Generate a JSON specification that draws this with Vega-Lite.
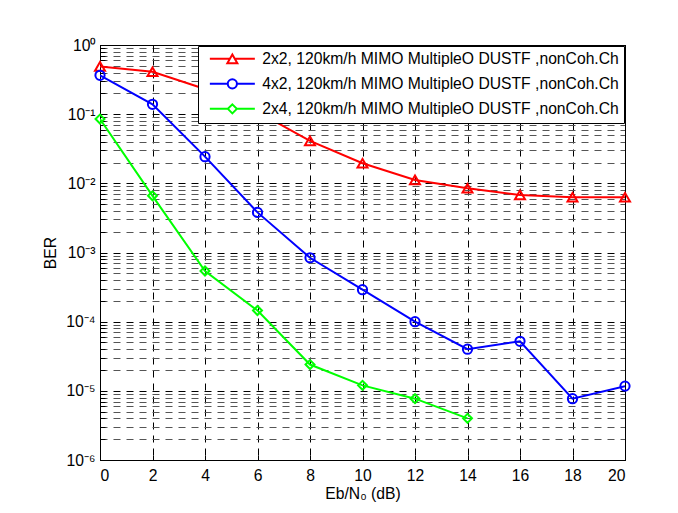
{
  "$schema": "https://vega.github.io/schema/vega-lite/v6.json",
  "width": 525,
  "height": 415,
  "autosize": {"type": "none"},
  "padding": {"left": 100, "top": 45, "right": 53, "bottom": 53},
  "background": "white",
  "config": {
    "font": "Liberation Sans",
    "view": {"stroke": "black", "strokeWidth": 1},
    "axis": {
      "labelFont": "Liberation Sans",
      "labelFontSize": 15.7,
      "labelColor": "black",
      "titleFont": "Liberation Sans",
      "titleFontSize": 15.7,
      "titleFontWeight": "normal",
      "titleColor": "black",
      "domainColor": "black",
      "domainWidth": 1,
      "tickColor": "black",
      "tickWidth": 1,
      "gridColor": "black",
      "gridWidth": 1,
      "gridDash": [7, 6],
      "gridOpacity": 1
    }
  },
  "data": {
    "values": [
      {"series": "2x2, 120km/h MIMO MultipleO DUSTF ,nonCoh.Ch", "snr": 0, "ber": 0.49},
      {"series": "2x2, 120km/h MIMO MultipleO DUSTF ,nonCoh.Ch", "snr": 2, "ber": 0.41},
      {"series": "2x2, 120km/h MIMO MultipleO DUSTF ,nonCoh.Ch", "snr": 4, "ber": 0.231},
      {"series": "2x2, 120km/h MIMO MultipleO DUSTF ,nonCoh.Ch", "snr": 6, "ber": 0.108},
      {"series": "2x2, 120km/h MIMO MultipleO DUSTF ,nonCoh.Ch", "snr": 8, "ber": 0.041},
      {"series": "2x2, 120km/h MIMO MultipleO DUSTF ,nonCoh.Ch", "snr": 10, "ber": 0.0195},
      {"series": "2x2, 120km/h MIMO MultipleO DUSTF ,nonCoh.Ch", "snr": 12, "ber": 0.0112},
      {"series": "2x2, 120km/h MIMO MultipleO DUSTF ,nonCoh.Ch", "snr": 14, "ber": 0.0085},
      {"series": "2x2, 120km/h MIMO MultipleO DUSTF ,nonCoh.Ch", "snr": 16, "ber": 0.0068},
      {"series": "2x2, 120km/h MIMO MultipleO DUSTF ,nonCoh.Ch", "snr": 18, "ber": 0.0063},
      {"series": "2x2, 120km/h MIMO MultipleO DUSTF ,nonCoh.Ch", "snr": 20, "ber": 0.0063},
      {"series": "4x2, 120km/h MIMO MultipleO DUSTF ,nonCoh.Ch", "snr": 0, "ber": 0.365},
      {"series": "4x2, 120km/h MIMO MultipleO DUSTF ,nonCoh.Ch", "snr": 2, "ber": 0.139},
      {"series": "4x2, 120km/h MIMO MultipleO DUSTF ,nonCoh.Ch", "snr": 4, "ber": 0.0243},
      {"series": "4x2, 120km/h MIMO MultipleO DUSTF ,nonCoh.Ch", "snr": 6, "ber": 0.0038},
      {"series": "4x2, 120km/h MIMO MultipleO DUSTF ,nonCoh.Ch", "snr": 8, "ber": 0.00084},
      {"series": "4x2, 120km/h MIMO MultipleO DUSTF ,nonCoh.Ch", "snr": 10, "ber": 0.00029},
      {"series": "4x2, 120km/h MIMO MultipleO DUSTF ,nonCoh.Ch", "snr": 12, "ber": 0.0001},
      {"series": "4x2, 120km/h MIMO MultipleO DUSTF ,nonCoh.Ch", "snr": 14, "ber": 0.00004},
      {"series": "4x2, 120km/h MIMO MultipleO DUSTF ,nonCoh.Ch", "snr": 16, "ber": 0.000052},
      {"series": "4x2, 120km/h MIMO MultipleO DUSTF ,nonCoh.Ch", "snr": 18, "ber": 0.0000077},
      {"series": "4x2, 120km/h MIMO MultipleO DUSTF ,nonCoh.Ch", "snr": 20, "ber": 0.0000117},
      {"series": "2x4, 120km/h MIMO MultipleO DUSTF ,nonCoh.Ch", "snr": 0, "ber": 0.085},
      {"series": "2x4, 120km/h MIMO MultipleO DUSTF ,nonCoh.Ch", "snr": 2, "ber": 0.0066},
      {"series": "2x4, 120km/h MIMO MultipleO DUSTF ,nonCoh.Ch", "snr": 4, "ber": 0.00054},
      {"series": "2x4, 120km/h MIMO MultipleO DUSTF ,nonCoh.Ch", "snr": 6, "ber": 0.000145},
      {"series": "2x4, 120km/h MIMO MultipleO DUSTF ,nonCoh.Ch", "snr": 8, "ber": 0.000024},
      {"series": "2x4, 120km/h MIMO MultipleO DUSTF ,nonCoh.Ch", "snr": 10, "ber": 0.000012},
      {"series": "2x4, 120km/h MIMO MultipleO DUSTF ,nonCoh.Ch", "snr": 12, "ber": 0.0000077},
      {"series": "2x4, 120km/h MIMO MultipleO DUSTF ,nonCoh.Ch", "snr": 14, "ber": 0.000004}
    ]
  },
  "layer": [
    {
      "mark": {"type": "line", "strokeWidth": 2, "clip": true},
      "encoding": {
        "x": {
          "field": "snr", "type": "quantitative",
          "scale": {"domain": [0, 20], "nice": false, "zero": false},
          "axis": {
            "orient": "bottom",
            "title": "Eb/N₀ (dB)",
            "values": [0, 2, 4, 6, 8, 10, 12, 14, 16, 18, 20],
            "tickSize": -5,
            "labelPadding": 13,
            "titlePadding": 4,
            "grid": true
          }
        },
        "y": {
          "field": "ber", "type": "quantitative",
          "scale": {"type": "log", "domain": [0.000001, 1], "nice": false},
          "axis": {
            "orient": "left",
            "title": "BER",
            "titlePadding": 7,
            "tickSize": -5,
            "labelPadding": 10,
            "grid": true,
            "values": [1e-6, 2e-6, 3e-6, 4e-6, 5e-6, 6e-6, 7e-6, 8e-6, 9e-6,
                       1e-5, 2e-5, 3e-5, 4e-5, 5e-5, 6e-5, 7e-5, 8e-5, 9e-5,
                       1e-4, 2e-4, 3e-4, 4e-4, 5e-4, 6e-4, 7e-4, 8e-4, 9e-4,
                       1e-3, 2e-3, 3e-3, 4e-3, 5e-3, 6e-3, 7e-3, 8e-3, 9e-3,
                       1e-2, 2e-2, 3e-2, 4e-2, 5e-2, 6e-2, 7e-2, 8e-2, 9e-2,
                       1e-1, 2e-1, 3e-1, 4e-1, 5e-1, 6e-1, 7e-1, 8e-1, 9e-1, 1],
            "labelExpr": "abs(log(datum.value)/LN10 - round(log(datum.value)/LN10)) < 0.001 ? '10' + ['⁰','⁻¹','⁻²','⁻³','⁻⁴','⁻⁵','⁻⁶'][-round(log(datum.value)/LN10)] : ''",
            "gridColor": {
              "condition": {"test": "abs(log(datum.value)/LN10 - round(log(datum.value)/LN10)) < 0.001", "value": "black"},
              "value": "#555555"
            }
          }
        },
        "color": {
          "field": "series", "type": "nominal",
          "scale": {
            "domain": ["2x2, 120km/h MIMO MultipleO DUSTF ,nonCoh.Ch", "4x2, 120km/h MIMO MultipleO DUSTF ,nonCoh.Ch", "2x4, 120km/h MIMO MultipleO DUSTF ,nonCoh.Ch"],
            "range": ["#ff0000", "#0000ff", "#00ff00"]
          }
        }
      }
    },
    {
      "transform": [{"filter": "datum.series === '2x2, 120km/h MIMO MultipleO DUSTF ,nonCoh.Ch'"}],
      "mark": {"type": "point", "shape": "triangle-up", "size": 100, "filled": false, "strokeWidth": 2, "opacity": 1, "clip": false},
      "encoding": {
        "x": {
          "field": "snr", "type": "quantitative",
          "axis": {
            "orient": "top", "title": null, "labels": false, "grid": false,
            "values": [0, 2, 4, 6, 8, 10, 12, 14, 16, 18, 20],
            "tickSize": -5
          }
        },
        "y": {
          "field": "ber", "type": "quantitative",
          "axis": {
            "orient": "right", "title": null, "labels": false, "grid": false,
            "values": [1e-6, 1e-5, 1e-4, 1e-3, 1e-2, 1e-1, 1],
            "tickSize": -5
          }
        },
        "color": {"field": "series", "type": "nominal"}
      }
    },
    {
      "transform": [{"filter": "datum.series === '4x2, 120km/h MIMO MultipleO DUSTF ,nonCoh.Ch'"}],
      "mark": {"type": "point", "shape": "circle", "size": 85, "filled": false, "strokeWidth": 2, "opacity": 1, "clip": false},
      "encoding": {
        "x": {"field": "snr", "type": "quantitative", "axis": null},
        "y": {"field": "ber", "type": "quantitative", "axis": null},
        "color": {"field": "series", "type": "nominal"}
      }
    },
    {
      "transform": [{"filter": "datum.series === '2x4, 120km/h MIMO MultipleO DUSTF ,nonCoh.Ch'"}],
      "mark": {"type": "point", "shape": "diamond", "size": 80, "filled": false, "strokeWidth": 2, "opacity": 1, "clip": false},
      "encoding": {
        "x": {"field": "snr", "type": "quantitative", "axis": null},
        "y": {"field": "ber", "type": "quantitative", "axis": null},
        "color": {"field": "series", "type": "nominal"}
      }
    },
    {
      "transform": [{"filter": "false"}],
      "mark": {"type": "point", "filled": false, "strokeWidth": 2, "opacity": 1},
      "encoding": {
        "x": {"field": "snr", "type": "quantitative", "axis": null},
        "y": {"field": "ber", "type": "quantitative", "axis": null},
        "color": {"field": "series", "type": "nominal", "legend": {"title": null}},
        "shape": {
          "field": "series", "type": "nominal",
          "scale": {
            "domain": ["2x2, 120km/h MIMO MultipleO DUSTF ,nonCoh.Ch", "4x2, 120km/h MIMO MultipleO DUSTF ,nonCoh.Ch", "2x4, 120km/h MIMO MultipleO DUSTF ,nonCoh.Ch"],
            "range": [
              "M-4.5,0L-0.5,0M0.5,0L4.5,0M0,-0.87L1,0.87L-1,0.87Z",
              "M-4.5,0L-0.92,0M0.92,0L4.5,0M0.92,0A0.92,0.92,0,1,1,-0.92,0A0.92,0.92,0,1,1,0.92,0Z",
              "M-4.5,0L-0.9,0M0.9,0L4.5,0M0,-0.9L0.9,0L0,0.9L-0.9,0Z"
            ]
          },
          "legend": {
            "title": null,
            "orient": "none",
            "legendX": 98,
            "legendY": 1,
            "padding": 5,
            "fillColor": "white",
            "strokeColor": "black",
            "cornerRadius": 0,
            "labelFont": "Liberation Sans",
            "labelFontSize": 15.7,
            "labelColor": "black",
            "labelLimit": 0,
            "labelOffset": 22,
            "symbolOffset": 21.5,
            "symbolSize": 100,
            "symbolStrokeWidth": 2,
            "symbolFillColor": "transparent",
            "rowPadding": 7,
            "labelExpr": "datum.label + '\u00a0\u00a0'"
          }
        }
      }
    }
  ],
  "resolve": {
    "axis": {"x": "independent", "y": "independent"}
  }
}
